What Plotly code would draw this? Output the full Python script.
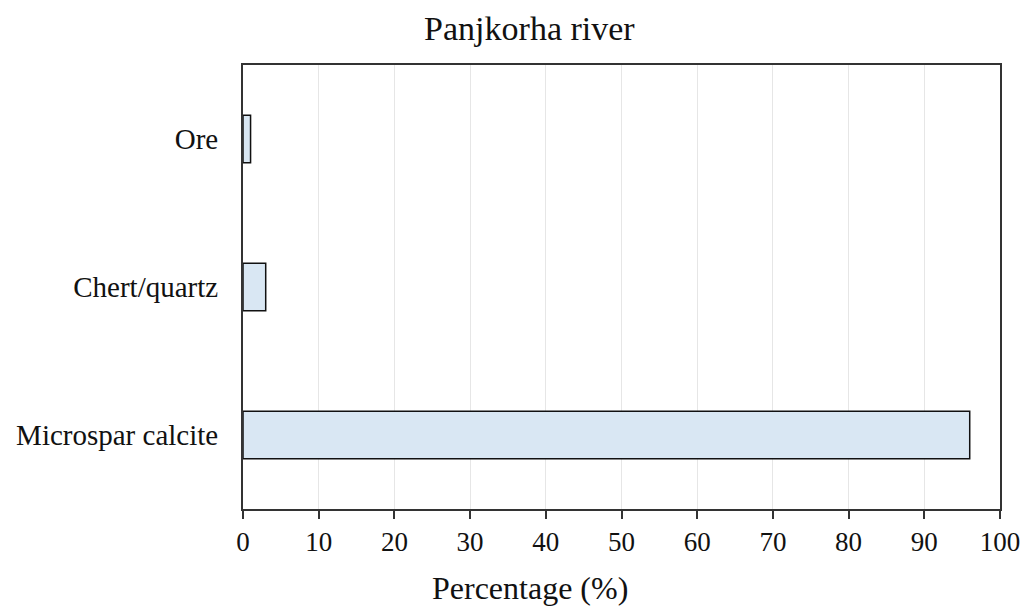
import plotly.graph_objects as go

categories = ["Microspar calcite", "Chert/quartz", "Ore"]
values = [96, 3, 1]
x_ticks = list(range(0, 101, 10))
x_title = "Percentage (%)"
chart_title = "Panjkorha river"

FONT = "Liberation Serif"

fig = go.Figure(
    go.Bar(
        y=categories,
        x=values,
        orientation="h",
        width=0.32,
        marker=dict(color="#d9e7f3", line=dict(color="#111111", width=1.5)),
    )
)

fig.update_layout(
    width=1022,
    height=606,
    margin=dict(l=243, r=22, t=65, b=97, autoexpand=False),
    paper_bgcolor="white",
    plot_bgcolor="white",
    showlegend=False,
    title=dict(
        text=chart_title,
        xref="container",
        x=0.518,
        xanchor="center",
        y=0.953,
        yanchor="middle",
        font=dict(family=FONT, size=34, color="#111111"),
    ),
    font=dict(family=FONT, size=28, color="#111111"),
    annotations=[
        dict(
            text=x_title,
            xref="paper",
            yref="paper",
            x=0.379,
            y=-0.177,
            xanchor="center",
            yanchor="middle",
            showarrow=False,
            font=dict(family=FONT, size=32, color="#111111"),
        )
    ],
)

fig.update_xaxes(
    range=[0, 100],
    tickvals=x_ticks,
    ticktext=[str(v) for v in x_ticks],
    automargin=False,
    showgrid=True,
    gridcolor="#e6e6e6",
    gridwidth=1,
    zeroline=False,
    showline=True,
    linecolor="#333333",
    linewidth=2,
    mirror=True,
    ticks="outside",
    ticklen=8,
    tickwidth=2,
    tickcolor="#333333",
    tickfont=dict(family=FONT, size=27),
)

fig.update_yaxes(
    automargin=False,
    showgrid=False,
    zeroline=False,
    showline=True,
    linecolor="#333333",
    linewidth=2,
    mirror=True,
    ticks="",
    ticklabelstandoff=17,
    tickfont=dict(family=FONT, size=29),
)

fig.write_html("out.html")
